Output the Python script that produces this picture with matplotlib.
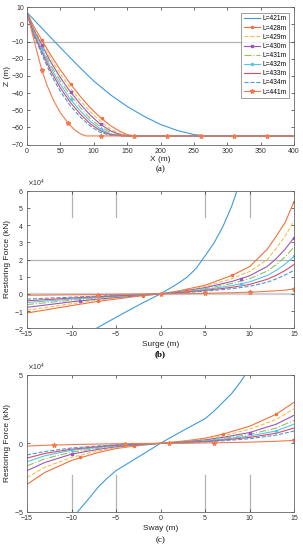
import numpy as np
import matplotlib
matplotlib.use("Agg")
import matplotlib.pyplot as plt
from matplotlib.lines import Line2D
from matplotlib.ticker import ScalarFormatter

plt.rcParams['font.family'] = ['Liberation Sans', 'DejaVu Sans']

labels = ["L=421m", "L=428m", "L=429m", "L=430m", "L=431m", "L=432m", "L=433m", "L=434m", "L=441m"]

# ---------------- Panel (a): mooring line profiles ----------------
a421_x = [0, 25, 50, 75, 100, 125, 150, 175, 200, 225, 250, 270, 400]
a421_z = [7, -3.3, -13.5, -23.5, -33, -41, -47.8, -53.5, -58.3, -61.8, -64.2, -65, -65]
a428_x = [0, 10, 22, 35, 50, 65, 80, 95, 110, 125, 140, 150, 162, 400]
a428_z = [7, -1, -9, -17.5, -26.5, -34.6, -42, -48.7, -54.3, -59, -62.5, -64.2, -65, -65]
a429_x = [0, 10, 22, 35, 50, 65, 80, 95, 110, 125, 140, 158, 400]
a429_z = [7, -2, -10.3, -19.5, -29, -37, -44.5, -51, -56.5, -61, -63.8, -65, -65]
a430_x = [0, 10, 22, 35, 50, 65, 80, 95, 110, 125, 140, 155, 400]
a430_z = [7, -3, -11.8, -21.5, -31, -39.3, -46.5, -53, -58.2, -62, -64.3, -65, -65]
a431_x = [0, 10, 22, 35, 50, 65, 80, 95, 110, 125, 140, 152, 400]
a431_z = [7, -4, -13.2, -23.3, -33, -41.4, -48.5, -55, -59.7, -63, -64.7, -65, -65]
a432_x = [0, 10, 22, 35, 50, 65, 80, 95, 110, 125, 140, 150, 400]
a432_z = [7, -4.8, -14.5, -25, -35, -43.6, -50.5, -56.5, -61, -63.8, -64.9, -65, -65]
a433_x = [0, 10, 22, 35, 50, 65, 80, 95, 110, 125, 147, 400]
a433_z = [7, -5.6, -15.8, -26.7, -37, -45.5, -52.3, -58, -62, -64.3, -65, -65]
a434_x = [0, 10, 22, 35, 50, 65, 80, 95, 110, 125, 144, 400]
a434_z = [7, -6.5, -17.2, -28.5, -39, -47.5, -54, -59.3, -63, -64.6, -65, -65]
a441_x = [0, 5, 10, 16, 22, 30, 40, 50, 61, 70, 80, 88, 400]
a441_z = [7, -1, -8.5, -17.5, -26.3, -35.5, -44.5, -51.5, -57.2, -61, -63.8, -65, -65]

a428_mx = [22.9, 65.9, 111.9, 160.7, 210, 260, 310, 360]
a428_mz = [-9, -34.6, -54.3, -65, -65, -65, -65, -65]
a430_mx = [22, 65.9, 111.5]
a430_mz = [-11.8, -39.3, -58.2]
a432_mx = [22, 66, 111]
a432_mz = [-14.5, -43.6, -61]
a441_mx = [22.9, 61, 111, 160, 210, 260, 310, 360]
a441_mz = [-26.3, -57.2, -65, -65, -65, -65, -65, -65]

# ---------------- Panel (b): surge restoring force (x 1e4 kN) ----------------
b421_x = [-7.2, -6, -4, -2, 0, 2, 3, 4, 5, 6, 7, 8, 8.6]
b421_f = [-2.0, -1.65, -1.08, -0.52, 0, 0.62, 0.98, 1.48, 2.2, 2.95, 3.9, 5.1, 6.0]
b_x = [-15, -10, -7, -5, -2, 0, 2, 5, 8, 10, 12, 13, 14, 15]
b428_f = [-1.11, -0.68, -0.43, -0.3, -0.1, 0, 0.17, 0.5, 1.07, 1.58, 2.6, 3.35, 4.15, 5.36]
b429_f = [-0.95, -0.57, -0.37, -0.25, -0.09, 0, 0.14, 0.42, 0.88, 1.3, 2.0, 2.65, 3.35, 4.25]
b430_f = [-0.78, -0.46, -0.3, -0.21, -0.08, 0, 0.12, 0.36, 0.72, 1.05, 1.6, 2.05, 2.6, 3.27]
b431_f = [-0.62, -0.37, -0.24, -0.17, -0.06, 0, 0.1, 0.3, 0.6, 0.88, 1.33, 1.7, 2.15, 2.73]
b432_f = [-0.5, -0.3, -0.2, -0.14, -0.05, 0, 0.08, 0.25, 0.48, 0.7, 1.07, 1.37, 1.73, 2.18]
b433_f = [-0.4, -0.24, -0.16, -0.11, -0.04, 0, 0.07, 0.2, 0.38, 0.55, 0.85, 1.08, 1.36, 1.71]
b434_f = [-0.3, -0.19, -0.13, -0.09, -0.03, 0, 0.055, 0.16, 0.3, 0.44, 0.68, 0.87, 1.1, 1.37]
b441_f = [-0.08, -0.05, -0.04, -0.03, -0.01, 0, 0.01, 0.03, 0.07, 0.1, 0.15, 0.18, 0.22, 0.28]

b428_mx = [-7, -2, 3, 8, 15]
b428_mf = [-0.43, -0.1, 0.25, 1.07, 5.36]
b430_mx = [-9, 9, 15]
b430_mf = [-0.4, 0.88, 3.27]
b432_mx = [9, 15]
b432_mf = [0.55, 2.18]
b441_mx = [-7, 0, 5, 10, 15]
b441_mf = [-0.04, 0, 0.03, 0.1, 0.28]

# ---------------- Panel (c): sway restoring force (x 1e4 kN) ----------------
c421_x = [-9.3, -8, -7, -6, -5, -3, -1, 0, 1, 3, 5, 6, 7, 8, 9, 9.5]
c421_f = [-5, -4.0, -3.2, -2.55, -2.0, -1.2, -0.4, 0, 0.38, 1.1, 1.8, 2.35, 3.0, 3.65, 4.5, 5.0]
c_x = [-15, -13, -10, -7, -5, -3, 0, 3, 5, 7, 10, 13, 15]
c428_f = [-3.0, -2.13, -1.25, -0.67, -0.38, -0.2, 0, 0.2, 0.38, 0.67, 1.25, 2.13, 3.0]
c429_f = [-2.5, -1.75, -1.03, -0.55, -0.31, -0.16, 0, 0.16, 0.31, 0.55, 1.03, 1.75, 2.52]
c430_f = [-2.0, -1.4, -0.79, -0.44, -0.25, -0.13, 0, 0.13, 0.25, 0.44, 0.79, 1.4, 2.05]
c431_f = [-1.65, -1.12, -0.65, -0.36, -0.2, -0.11, 0, 0.11, 0.2, 0.36, 0.65, 1.12, 1.68]
c432_f = [-1.35, -0.91, -0.5, -0.3, -0.17, -0.09, 0, 0.09, 0.17, 0.3, 0.53, 0.91, 1.4]
c433_f = [-1.08, -0.74, -0.43, -0.24, -0.13, -0.07, 0, 0.07, 0.13, 0.24, 0.43, 0.74, 1.12]
c434_f = [-0.85, -0.6, -0.34, -0.19, -0.11, -0.06, 0, 0.06, 0.11, 0.19, 0.34, 0.6, 0.9]
c441_f = [-0.2, -0.14, -0.09, -0.05, -0.03, -0.01, 0, 0.01, 0.03, 0.05, 0.09, 0.15, 0.22]

c428_mx = [-9, -3, 7, 13]
c428_mf = [-0.98, -0.2, 0.67, 2.13]
c430_mx = [-10, 10]
c430_mf = [-0.79, 0.79]
c432_mx = [-10, 13]
c432_mf = [-0.47, 0.91]
c441_mx = [-12, -4, 1, 6, 15]
c441_mf = [-0.12, -0.02, 0.0, 0.04, 0.22]

# ---------------- styles ----------------
colors = ['#3E9BDB', '#F0703F', '#F2C04C', '#9E55BE', '#93C255', '#55C3F0', '#DC4A62', '#4A98DA', '#F27A4E']
styles = ['-', '-', '--', '-', '-.', '-', '-', '--', '-']
markers = [None, '.', None, 's', None, '.', None, None, '*']
msizes = [0, 3.0, 0, 2.0, 0, 3.0, 0, 0, 3.2]
lw = 0.8
grey = '#b4b4b4'
FS_TICK = 5
FS_LAB = 6

fig = plt.figure(figsize=(3.03, 5.50), dpi=100)
W, H = 303.0, 550.0


def make_ax(top, bottom):
    return fig.add_axes([27 / W, 1 - bottom / H, 267 / W, (bottom - top) / H])


def style_ax(ax):
    ax.tick_params(direction='in', top=True, right=True, length=2.5, width=0.5,
                   labelsize=FS_TICK, colors='#333333', pad=2.2)
    for s in ax.spines.values():
        s.set_linewidth(0.6)
        s.set_color('#666666')


def xlab(text, y):
    fig.text(160.5 / W, 1 - y / H, text, ha='center', va='center', fontsize=FS_LAB, color='#222222')


def ylab(text, y):
    fig.text(7.5 / W, 1 - y / H, text, ha='center', va='center', fontsize=FS_LAB, rotation=90,
             color='#222222')


def cap(text, y, bold=False):
    fig.text(160.5 / W, 1 - y / H, text, ha='center', va='center', fontsize=6.5,
             family='Liberation Serif', fontweight='bold' if bold else 'normal')


# ---- (a)
axa = make_ax(7.3, 144.5)
axa.axhline(-10, color=grey, lw=0.9, zorder=1)
a_lines = [(a421_x, a421_z), (a428_x, a428_z), (a429_x, a429_z), (a430_x, a430_z), (a431_x, a431_z),
           (a432_x, a432_z), (a433_x, a433_z), (a434_x, a434_z), (a441_x, a441_z)]
for i, (x, z) in enumerate(a_lines):
    axa.plot(x, z, color=colors[i], ls=styles[i], lw=lw)
a_marks = [(1, a428_mx, a428_mz), (3, a430_mx, a430_mz), (5, a432_mx, a432_mz), (8, a441_mx, a441_mz)]
for i, mx, mz in a_marks:
    axa.plot(mx, mz, ls='none', marker=markers[i], ms=msizes[i], color=colors[i])
axa.set_xlim(0, 400)
axa.set_ylim(-70, 10)
axa.set_xticks(np.arange(0, 401, 50))
axa.set_yticks(np.arange(-70, 11, 10))
style_ax(axa)
handles = [Line2D([], [], color=colors[i], ls=styles[i], lw=lw, marker=markers[i], ms=msizes[i])
           for i in range(9)]
leg = axa.legend(handles, labels, loc='upper right', bbox_to_anchor=(0.983, 0.96), fontsize=4.8,
                 frameon=True, fancybox=False, edgecolor='#555555', handlelength=2.4,
                 labelspacing=0.32, borderpad=0.4, handletextpad=0.4, borderaxespad=0)
leg.get_frame().set_linewidth(0.5)
xlab('X (m)', 159.5)
ylab('Z (m)', 76)
cap('(a)', 169.5)

# ---- (b)
axb = make_ax(190.7, 328.3)
axb.axhline(2e4, color=grey, lw=0.9, zorder=1)
axb.axhline(0, color='#d0d0d0', lw=1.6, zorder=1)
for xv in [-10, -5, 5, 10]:
    axb.plot([xv, xv], [4.5e4, 6e4], color=grey, lw=0.9, zorder=1)
axb.plot(b421_x, np.array(b421_f) * 1e4, color=colors[0], ls=styles[0], lw=lw)
b_series = [b428_f, b429_f, b430_f, b431_f, b432_f, b433_f, b434_f, b441_f]
for k, f in enumerate(b_series):
    i = k + 1
    axb.plot(b_x, np.array(f) * 1e4, color=colors[i], ls=styles[i], lw=lw)
b_marks = [(1, b428_mx, b428_mf), (3, b430_mx, b430_mf), (5, b432_mx, b432_mf), (8, b441_mx, b441_mf)]
for i, mx, mf in b_marks:
    axb.plot(mx, np.array(mf) * 1e4, ls='none', marker=markers[i], ms=msizes[i], color=colors[i])
axb.set_xlim(-15, 15)
axb.set_ylim(-2e4, 6e4)
axb.set_xticks(np.arange(-15, 16, 5))
axb.set_yticks(np.arange(-2e4, 6.1e4, 1e4))
sf = ScalarFormatter(useMathText=True)
sf.set_powerlimits((0, 0))
axb.yaxis.set_major_formatter(sf)
style_ax(axb)
axb.yaxis.get_offset_text().set_fontsize(FS_TICK)
xlab('Surge (m)', 344)
ylab('Restoring Force (kN)', 259.5)
cap('(b)', 354, bold=True)

# ---- (c)
axc = make_ax(375, 511.7)
for xv in [-10, -5, 5, 10]:
    axc.plot([xv, xv], [-2.3e4, -5e4], color=grey, lw=0.9, zorder=1)
axc.plot(c421_x, np.array(c421_f) * 1e4, color=colors[0], ls=styles[0], lw=lw)
c_series = [c428_f, c429_f, c430_f, c431_f, c432_f, c433_f, c434_f, c441_f]
for k, f in enumerate(c_series):
    i = k + 1
    axc.plot(c_x, np.array(f) * 1e4, color=colors[i], ls=styles[i], lw=lw)
c_marks = [(1, c428_mx, c428_mf), (3, c430_mx, c430_mf), (5, c432_mx, c432_mf), (8, c441_mx, c441_mf)]
for i, mx, mf in c_marks:
    axc.plot(mx, np.array(mf) * 1e4, ls='none', marker=markers[i], ms=msizes[i], color=colors[i])
axc.set_xlim(-15, 15)
axc.set_ylim(-5e4, 5e4)
axc.set_xticks(np.arange(-15, 16, 5))
axc.set_yticks([-5e4, 0, 5e4])
sf2 = ScalarFormatter(useMathText=True)
sf2.set_powerlimits((0, 0))
axc.yaxis.set_major_formatter(sf2)
style_ax(axc)
axc.yaxis.get_offset_text().set_fontsize(FS_TICK)
xlab('Sway (m)', 529)
ylab('Restoring Force (kN)', 443)
cap('(c)', 540.5)

fig.savefig('out.png', dpi=100)
